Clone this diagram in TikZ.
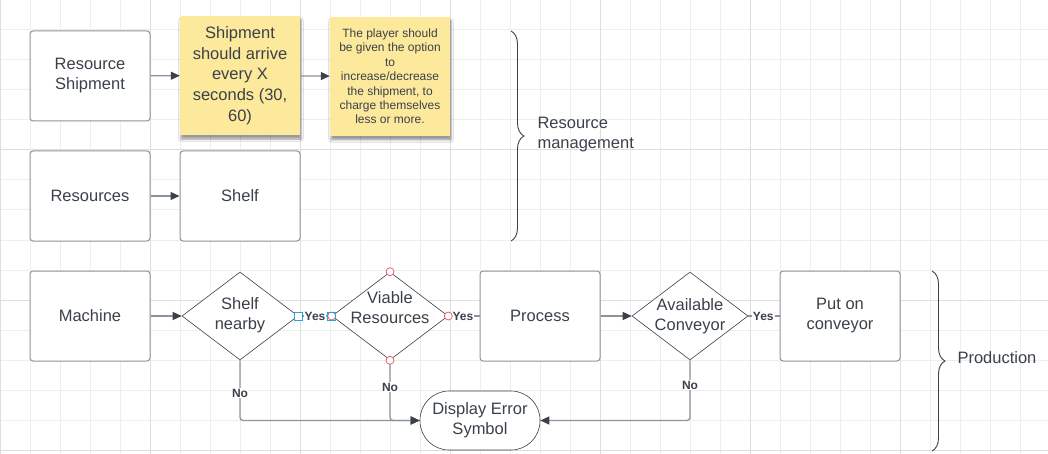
\documentclass[tikz,border=0pt]{standalone}
\usepackage{fontspec}
\setmainfont{Liberation Sans}
\usepackage{tikz}
\usetikzlibrary{shapes.geometric, arrows.meta, decorations.pathreplacing, shadows.blur}
\definecolor{ink}{HTML}{3A414A}
\definecolor{edge}{HTML}{8E9399}
\definecolor{gridminor}{HTML}{EEEEEE}
\definecolor{gridmajor}{HTML}{DEDEDE}
\definecolor{sticky}{HTML}{FDE99C}
\definecolor{handlered}{HTML}{E5606F}
\definecolor{handleblue}{HTML}{2AA3DC}
\tikzset{box/.style = {rectangle,draw=edge,line width=1pt,rounded corners=3pt,fill=white,
                       minimum width=120pt,minimum height=90pt,text=ink,align=center,
                       font=\fontsize{16.5}{20}\selectfont}}
\tikzset{decision/.style = {diamond,draw=ink,line width=0.6pt,fill=white,inner sep=0pt,aspect=1.32,
                            minimum width=116pt,minimum height=88pt}}
\tikzset{qtext/.style = {text=ink,align=center,inner sep=0pt,font=\fontsize{16.5}{20}\selectfont}}
\tikzset{note/.style = {rectangle,fill=sticky,minimum width=120pt,minimum height=119pt,
                        text=ink,align=center,
                        blur shadow={shadow xshift=1pt,shadow yshift=-4pt,shadow blur steps=6,shadow opacity=40}}}
\tikzset{link/.style = {draw=edge,line width=1.3pt,-{Triangle[length=9pt,width=8pt,color=ink]}}}
\tikzset{yeslink/.style = {draw=edge,line width=1.3pt}}
\tikzset{tag/.style = {fill=white,inner sep=1pt,text=ink,font=\fontsize{12}{14}\selectfont\bfseries}}
\tikzset{handle/.style = {circle,draw=handlered,fill=white,line width=0.8pt,inner sep=0pt,minimum size=8pt}}
\tikzset{grip/.style = {rectangle,draw=handleblue,fill=white,line width=0.8pt,inner sep=0pt,minimum size=8pt}}

\begin{document}
\begin{tikzpicture}[x=1pt,y=-1pt]
                    \useasboundingbox (0,0) rectangle (1048,454);
                    \fill[white] (0,0) rectangle (1048,454);
                    \foreach \gx in {0,30,...,1020} \draw[gridminor,line width=1pt] (\gx,0) -- (\gx,454);
                    \foreach \gy in {0,30,...,450} \draw[gridminor,line width=1pt] (0,\gy) -- (1048,\gy);
                    \foreach \gx in {0,150,...,900} \draw[gridmajor,line width=1pt] (\gx,0) -- (\gx,454);
                    \foreach \gy in {0,150,...,450} \draw[gridmajor,line width=1pt] (0,\gy) -- (1048,\gy);

                    % resource management
                    \node [box] (rship) at (90,76) {Resource\\Shipment};
                    \node [note,font=\fontsize{16.5}{20.7}\selectfont] (shipnote) at (240,75.5)
                          {Shipment\\should arrive\\every X\\seconds (30,\\60)};
                    \node [note,font=\fontsize{12}{14.4}\selectfont] (optnote) at (390,76.5)
                          {The player should\\be given the option\\to\\increase/decrease\\the shipment, to\\charge themselves\\less or more.};
                    \node [box] (resources) at (90,196) {Resources};
                    \node [box] (shelf) at (240,196) {Shelf};

                    \draw [link] (rship) to (shipnote);
                    \draw [link] (shipnote) to (optnote);
                    \draw [link] (resources) to (shelf);

                    % production
                    \node [box] (machine) at (90,316) {Machine};
                    \node [decision,label={[qtext,yshift=1pt]center:{Shelf\\nearby}}] (shelfq) at (240,316) {};
                    \node [decision,label={[qtext,yshift=8.5pt]center:{Viable\\Resources}}] (viableq) at (390,316) {};
                    \node [box] (process) at (540,316) {Process};
                    \node [decision,label={[qtext,yshift=0pt]center:{Available\\Conveyor}}] (convq) at (690,316) {};
                    \node [box,text depth=4pt] (puton) at (840,316) {Put on\\conveyor};
                    \node [box,draw=ink,line width=0.6pt,rounded corners=29pt,minimum height=59pt] (error) at (480,420.5)
                          {Display Error\\Symbol};

                    \draw [link] (machine) to (shelfq);
                    \draw [yeslink] (shelfq) to node [tag] {Yes} (viableq);
                    \draw [yeslink] (viableq) to node [tag,pos=0.47] {Yes} (process);
                    \draw [link] (process) to (convq);
                    \draw [yeslink] (convq) to node [tag,pos=0.48] {Yes} (puton);
                    \draw [link,rounded corners=3pt] (shelfq.south) -- (240,420.5) -- (error.west);
                    \draw [link,rounded corners=3pt] (viableq.south) -- (390,420.5) -- (error.west);
                    \draw [link,rounded corners=3pt] (convq.south) -- (690,420.5) -- (error.east);
                    \node [tag] (noshelf) at (240,393) {No};
                    \node [tag] (noviable) at (390,387) {No};
                    \node [tag] (noconv) at (690,385) {No};

                    % groups
                    \draw [ink,line width=0.9pt,decorate,decoration={brace,amplitude=13pt}] (511,31) -- (511,241);
                    \node [anchor=west,align=left,text=ink,font=\fontsize{16.5}{20}\selectfont] (resmgmt) at (534,135)
                          {Resource\\management};
                    \draw [ink,line width=0.9pt,decorate,decoration={brace,amplitude=13pt}] (932,271) -- (932,451);
                    \node [anchor=west,text=ink,font=\fontsize{16.5}{20}\selectfont] (prod) at (954,358) {Production};

                    % selection handles
                    \node [grip] at (shelfq.east) {};
                    \node [handle] at (viableq.north) {};
                    \node [handle] at (viableq.south) {};
                    \node [handle] at (viableq.east) {};
                    \node [handle] at (viableq.west) {};
                    \node [grip,fill=none] at (viableq.west) {};
                \end{tikzpicture}
\end{document}
